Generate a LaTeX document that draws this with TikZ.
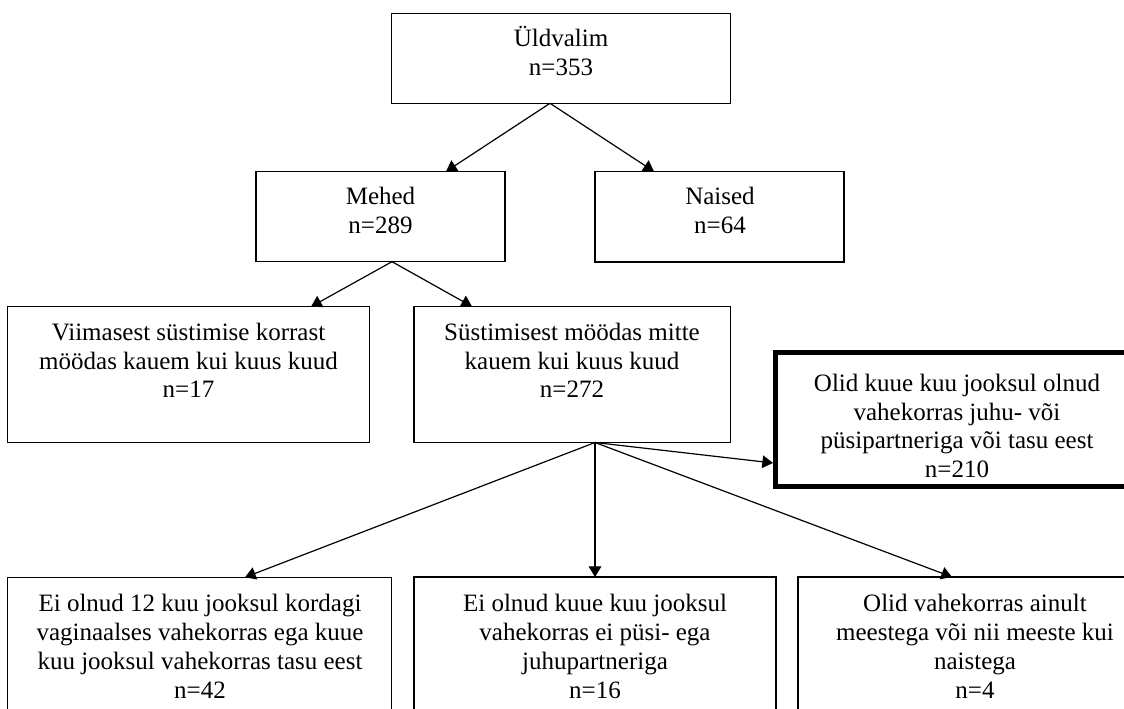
\documentclass[tikz,border=0pt]{standalone}
\usepackage{fontspec}
\setmainfont{Liberation Serif}
\usetikzlibrary{arrows.meta,fit,calc}
\begin{document}
\begin{tikzpicture}[x=0.75pt,y=-0.75pt,
  box/.style={draw=black,line width=0.9pt,inner sep=0pt,rectangle},
  thickbox/.style={draw=black,line width=3.75pt,inner sep=0pt,rectangle},
  txt/.style={anchor=north,align=center,inner sep=0pt,
    font=\fontsize{18.75pt}{21.56pt}\selectfont},
  arr/.style={line width=0.9pt,-{Triangle[length=8pt,width=9.5pt]}}]
\useasboundingbox (0,0) rectangle (1124,709);
\fill[white] (0,0) rectangle (1124,709);
% boxes
\node[box,fit={(391.7,13.3) (730.7,103.3)}] (uld) {};
\node[box,fit={(256,171.5) (505,261.7)}] (mehed) {};
\node[box,fit={(595,171.5) (844,262)}] (naised) {};
\node[box,fit={(7.3,306.7) (369.3,442.3)}] (viim) {};
\node[box,fit={(414,306.5) (730.7,442.5)}] (sust) {};
\node[thickbox,fit={(775.5,352.5) (1145,486.5)}] (olid) {};
\node[box,fit={(7.3,577.3) (391.7,760)}] (b1) {};
\node[box,fit={(414,577) (776,760)}] (b2) {};
\node[box,fit={(798,577) (1160,760)}] (b3) {};
% texts
\node[txt] (tuld) at (561,24.5) {\rule{0pt}{16.5pt}Üldvalim\\n=353};
\node[txt] (tmehed) at (380.5,182) {\rule{0pt}{16.5pt}Mehed\\n=289};
\node[txt] (tnaised) at (720,182) {\rule{0pt}{16.5pt}Naised\\n=64};
\node[txt] (tviim) at (188.5,318) {\rule{0pt}{16.5pt}Viimasest süstimise korrast\\möödas kauem kui kuus kuud\\n=17};
\node[txt] (tsust) at (572,318) {\rule{0pt}{16.5pt}Süstimisest möödas mitte\\kauem kui kuus kuud\\n=272};
\node[txt] (tolid) at (957,369) {\rule{0pt}{16.5pt}Olid kuue kuu jooksul olnud\\vahekorras juhu- või\\püsipartneriga või tasu eest\\n=210};
\node[txt] (tb1) at (200,589.5) {\rule{0pt}{16.5pt}Ei olnud 12 kuu jooksul kordagi\\vaginaalses vahekorras ega kuue\\kuu jooksul vahekorras tasu eest\\n=42};
\node[txt] (tb2) at (595,589.5) {\rule{0pt}{16.5pt}Ei olnud kuue kuu jooksul\\vahekorras ei püsi- ega\\juhupartneriga\\n=16};
\node[txt] (tb3) at (975,589.5) {\rule{0pt}{16.5pt}Olid vahekorras ainult\\meestega või nii meeste kui\\naistega\\n=4};
% connector points
\coordinate (uldout) at (550,103.3);
\coordinate (mehedin) at (446,171.5);
\coordinate (naisedin) at (654,171.5);
\coordinate (mehedout) at (392,261.7);
\coordinate (viimin) at (311,306.7);
\coordinate (sustin) at (472,306.5);
\coordinate (sustout) at (595,442.5);
\coordinate (olidin) at (773,463);
\coordinate (b1in) at (245,577.3);
\coordinate (b2in) at (595,577);
\coordinate (b3in) at (952,577);
% connectors
\draw[arr] (uldout) -- (mehedin);
\draw[arr] (uldout) -- (naisedin);
\draw[arr] (mehedout) -- (viimin);
\draw[arr] (mehedout) -- (sustin);
\draw[arr] (sustout) -- (olidin);
\draw[arr] (sustout) -- (b1in);
\draw[arr] (sustout) -- (b2in);
\draw[arr] (sustout) -- (b3in);
\end{tikzpicture}
\end{document}
